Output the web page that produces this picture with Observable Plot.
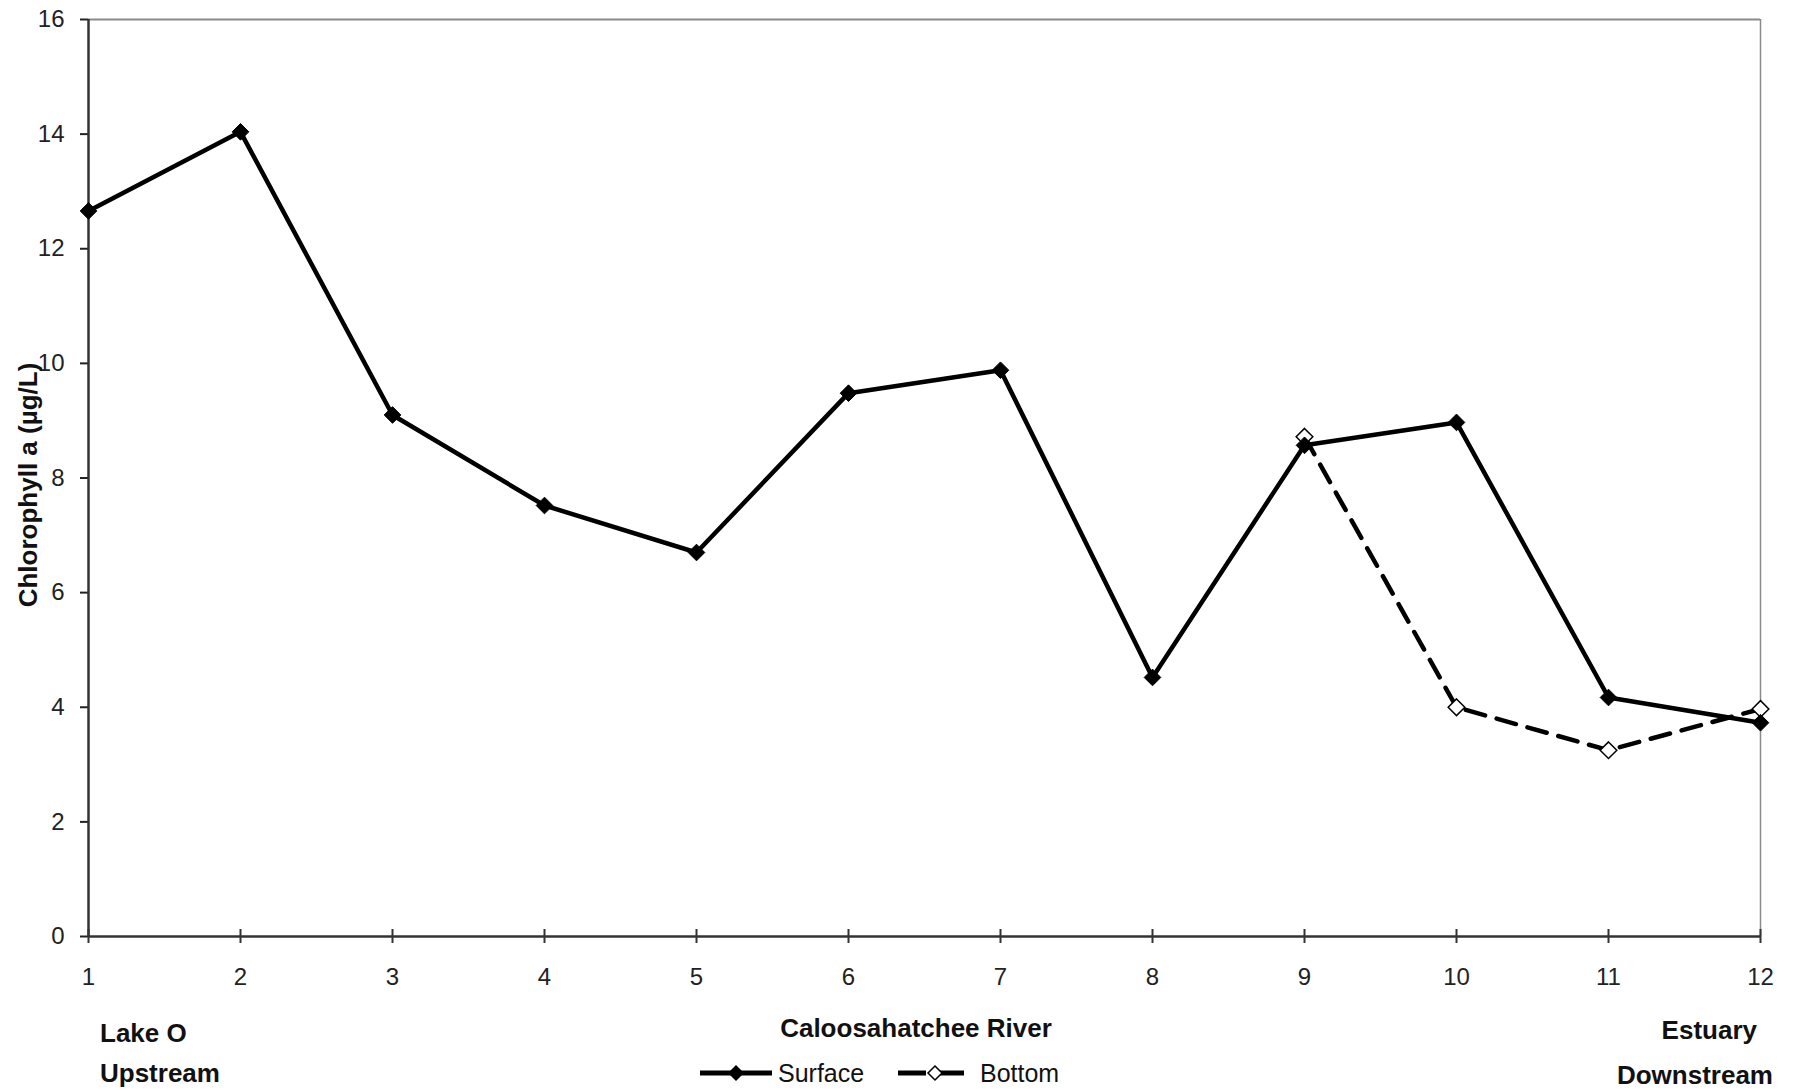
<!DOCTYPE html>
<html><head><meta charset="utf-8">
<script src="https://cdn.jsdelivr.net/npm/d3@7"></script>
<script src="https://cdn.jsdelivr.net/npm/@observablehq/plot@0.6"></script>
<style>
html,body{margin:0;padding:0;background:#fff;}
#wrap{position:relative;width:1795px;height:1091px;font-family:"Liberation Sans",Arial,sans-serif;color:#111;overflow:hidden;}
.ann{position:absolute;font-weight:bold;font-size:26px;line-height:26px;white-space:nowrap;transform:translateY(-50%);}
.leg{position:absolute;font-size:25px;line-height:25px;white-space:nowrap;transform:translateY(-50%);}
.sw{position:absolute;transform:translateY(-50%);}
</style></head><body><div id="wrap"></div>
<script>
const stations = [1, 2, 3, 4, 5, 6, 7, 8, 9, 10, 11, 12];
const surface = [12.66, 14.04, 9.1, 7.52, 6.7, 9.48, 9.88, 4.52, 8.57, 8.97, 4.17, 3.73];
const bottomStations = [9, 10, 11, 12];
const bottom = [8.72, 4.0, 3.25, 3.97];
const yTicks = [0, 2, 4, 6, 8, 10, 12, 14, 16];
const xTicks = stations;
const yLabel = "Chlorophyll a (µg/L)";

const surfaceData = stations.map((s, i) => ({station: s, value: surface[i]}));
const bottomData = bottomStations.map((s, i) => ({station: s, value: bottom[i]}));

const chart = Plot.plot({
  width: 1795, height: 1091,
  marginTop: 19, marginBottom: 155, marginLeft: 88, marginRight: 35,
  style: {fontFamily: '"Liberation Sans", Arial, sans-serif', fontSize: "24px", color: "#222", background: "#fff"},
  x: {domain: [1, 12]},
  y: {domain: [0, 16]},
  marks: [
    Plot.ruleY([16], {stroke: "#8a8a8a", strokeWidth: 2}),
    Plot.ruleX([12], {stroke: "#8a8a8a", strokeWidth: 1.5}),
    Plot.axisY({ticks: yTicks, tickSize: 8, tickPadding: 16, label: null, tickFormat: d => d, fontSize: 24, strokeWidth: 2}),
    Plot.axisX({ticks: xTicks, tickSize: 0, tickPadding: 31, label: null, tickFormat: d => d, fontSize: 24}),
    Plot.ruleX(xTicks, {x: d => d, y1: 0, y2: 0, insetTop: -7, insetBottom: -7, stroke: "#333", strokeWidth: 2}),
    Plot.ruleX([1], {stroke: "#333", strokeWidth: 2.5}),
    Plot.ruleY([0], {stroke: "#333", strokeWidth: 2.5}),
    Plot.line(bottomData, {x: "station", y: "value", stroke: "#000", strokeWidth: 4.5, strokeDasharray: "20,12"}),
    Plot.dot(bottomData, {x: "station", y: "value", symbol: "diamond2", r: 7.5, fill: "#fff", stroke: "#000", strokeWidth: 1.5}),
    Plot.line(surfaceData, {x: "station", y: "value", stroke: "#000", strokeWidth: 4.5}),
    Plot.dot(surfaceData, {x: "station", y: "value", symbol: "diamond2", r: 7.5, fill: "#000", stroke: "#000", strokeWidth: 1}),
    Plot.text([yLabel], {text: d => d, frameAnchor: "left", textAnchor: "middle", rotate: -90, dx: -60, dy: 7, fontSize: 26, fontWeight: "bold", fill: "#111"})
  ]
});
const wrap = document.getElementById("wrap");
wrap.appendChild(chart);

function addDiv(cls, text, left, top, right) {
  const d = document.createElement("div");
  d.className = cls;
  d.textContent = text;
  d.style.top = top + "px";
  if (right != null) d.style.right = right + "px"; else d.style.left = left + "px";
  wrap.appendChild(d);
}
addDiv("ann", "Lake O", 100, 1033);
addDiv("ann", "Upstream", 100, 1073);
const river = document.createElement("div");
river.className = "ann";
river.textContent = "Caloosahatchee River";
river.style.left = "916px"; river.style.top = "1028px";
river.style.transform = "translate(-50%,-50%)";
wrap.appendChild(river);
addDiv("ann", "Estuary", null, 1030, 1795 - 1757);
addDiv("ann", "Downstream", null, 1075, 1795 - 1773);

// legend
function swatch(left, dashed) {
  const s = d3.create("svg").attr("width", 74).attr("height", 24).attr("class", "sw")
    .style("left", left + "px").style("top", "1073px");
  if (dashed) {
    s.append("line").attr("x1", 0).attr("x2", 28).attr("y1", 12).attr("y2", 12).attr("stroke", "#000").attr("stroke-width", 5);
    s.append("line").attr("x1", 42).attr("x2", 66).attr("y1", 12).attr("y2", 12).attr("stroke", "#000").attr("stroke-width", 5);
    s.append("path").attr("d", "M37,5L44,12L37,19L30,12Z").attr("fill", "#fff").attr("stroke", "#000").attr("stroke-width", 1.5);
  } else {
    s.append("line").attr("x1", 0).attr("x2", 72).attr("y1", 12).attr("y2", 12).attr("stroke", "#000").attr("stroke-width", 5);
    s.append("path").attr("d", "M36,4L44,12L36,20L28,12Z").attr("fill", "#000");
  }
  wrap.appendChild(s.node());
}
swatch(700, false);
addDiv("leg", "Surface", 778, 1073);
swatch(898, true);
addDiv("leg", "Bottom", 980, 1073);
</script>
</body></html>
